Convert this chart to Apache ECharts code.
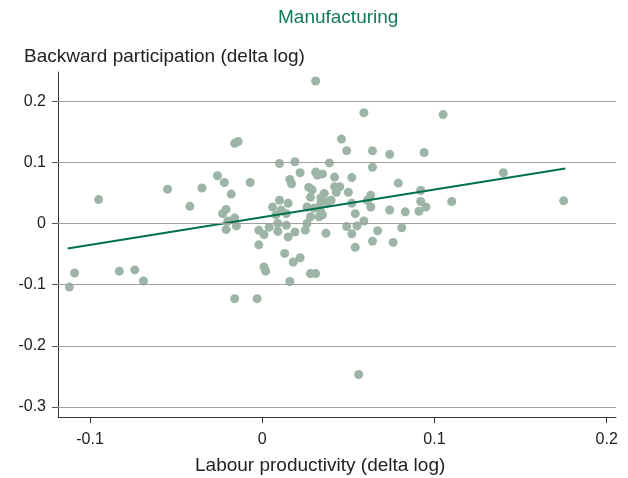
<!DOCTYPE html>
<html>
<head>
<meta charset="utf-8">
<script src="https://cdn.jsdelivr.net/npm/echarts@6/dist/echarts.min.js"></script>
<style>
  html, body { margin: 0; padding: 0; background: #fff; }
  #chart { width: 628px; height: 478px; }
</style>
</head>
<body>
<div id="chart"></div>
<script>
// Labour productivity (x) vs backward participation (y), both in delta log
const productivity = [
  -0.112, -0.109, -0.095, -0.083, -0.074, -0.069, -0.055, -0.042, -0.035, -0.026,
  -0.022, -0.018, -0.023, -0.021, -0.016, -0.014, -0.021, -0.020, -0.016, -0.015,
  -0.016, -0.003, -0.007, -0.002, -0.002, 0.001, 0.001, 0.002, 0.004, 0.009,
  0.009, 0.014, 0.015, 0.019, 0.025, 0.026, 0.013, 0.018, 0.022, 0.028,
  0.031, 0.016, 0.037, 0.049, 0.052, 0.055, 0.059, 0.054, 0.064, 0.067,
  0.076, 0.081, 0.056, 0.031, 0.059, 0.046, 0.049, 0.064, 0.074, 0.010,
  0.019, 0.039, 0.064, 0.022, 0.031, 0.032, 0.035, 0.042, 0.052, 0.016,
  0.017, 0.079, 0.027, 0.029, 0.042, 0.045, 0.043, 0.050, 0.028, 0.034,
  0.036, 0.038, 0.040, 0.034, 0.063, 0.061, 0.063, 0.052, 0.054, 0.034,
  0.035, 0.010, 0.015, 0.006, 0.011, 0.014, 0.008, 0.026, 0.030, 0.028,
  0.033, 0.105, 0.094, 0.140, 0.092, 0.092, 0.095, 0.110, 0.083, 0.091,
  0.175, 0.074
];
const participation = [
  -0.104, -0.081, 0.039, -0.078, -0.076, -0.094, 0.056, 0.028, 0.058, 0.078,
  0.067, 0.048, 0.016, 0.023, 0.131, 0.134, -0.010, 0.004, 0.009, -0.004,
  -0.123, -0.123, 0.067, -0.035, -0.011, -0.018, -0.071, -0.078, -0.006, 0.000,
  -0.013, -0.003, -0.022, -0.014, -0.011, 0.000, -0.049, -0.063, -0.056, -0.082,
  -0.082, -0.095, -0.016, -0.005, -0.017, -0.004, 0.004, -0.039, -0.029, -0.012,
  -0.031, -0.007, -0.247, 0.233, 0.181, 0.138, 0.119, 0.119, 0.113, 0.098,
  0.101, 0.099, 0.092, 0.083, 0.084, 0.079, 0.081, 0.076, 0.075, 0.072,
  0.065, 0.066, 0.059, 0.055, 0.060, 0.060, 0.051, 0.051, 0.043, 0.042,
  0.049, 0.035, 0.038, 0.033, 0.046, 0.038, 0.027, 0.033, 0.016, 0.019,
  0.014, 0.038, 0.033, 0.027, 0.022, 0.016, 0.014, 0.027, 0.025, 0.011,
  0.011, 0.178, 0.116, 0.083, 0.054, 0.036, 0.027, 0.036, 0.019, 0.020,
  0.037, 0.022
];

// Fitted line end points
const fitX = [-0.113, 0.176];
const fitY = [-0.041, 0.090];

// Tick values
const xTicks = [-0.1, 0, 0.1, 0.2];
const yTicks = [-0.3, -0.2, -0.1, 0, 0.1, 0.2];

const titleText = 'Manufacturing';
const yName = 'Backward participation (delta log)';
const xName = 'Labour productivity (delta log)';

const points = productivity.map((x, i) => [x, participation[i]]);
const fitLine = fitX.map((x, i) => [x, fitY[i]]);

const FONT = 'Liberation Sans, Arial, Helvetica, sans-serif';
const chart = echarts.init(document.getElementById('chart'), null, { renderer: 'canvas' });

chart.setOption({
  animation: false,
  backgroundColor: '#ffffff',
  textStyle: { fontFamily: FONT },
  title: [
    { text: titleText, left: 278, top: 8, padding: 0,
      textStyle: { color: '#127a5b', fontSize: 19, fontWeight: 'normal', fontFamily: FONT } },
    { text: yName, left: 24, top: 47, padding: 0,
      textStyle: { color: '#222', fontSize: 19, fontWeight: 'normal', fontFamily: FONT } },
    { text: xName, left: 195, top: 456, padding: 0,
      textStyle: { color: '#222', fontSize: 19, fontWeight: 'normal', fontFamily: FONT } }
  ],
  grid: { left: 58, right: 12, top: 72, bottom: 61, containLabel: false },
  xAxis: {
    type: 'value',
    min: -0.1186,
    max: 0.2054,
    axisLine: { show: true, onZero: false, lineStyle: { color: '#333', width: 1 } },
    axisTick: { show: true, customValues: xTicks, length: 6, lineStyle: { color: '#333' } },
    axisLabel: { customValues: xTicks, margin: 15, color: '#222', fontSize: 16, fontFamily: FONT },
    splitLine: { show: false }
  },
  yAxis: {
    type: 'value',
    min: -0.3165,
    max: 0.2477,
    axisLine: { show: true, onZero: false, lineStyle: { color: '#333', width: 1 } },
    axisTick: { show: true, customValues: yTicks, length: 6, lineStyle: { color: '#555' } },
    axisLabel: { customValues: yTicks, margin: 12, color: '#222', fontSize: 16, fontFamily: FONT },
    splitLine: { show: false }
  },
  series: [
    {
      // horizontal reference lines at each y tick
      type: 'line',
      data: [],
      z: 1,
      silent: true,
      markLine: {
        silent: true,
        symbol: ['none', 'none'],
        label: { show: false },
        lineStyle: { color: '#a0a0a0', width: 1, type: 'solid' },
        data: yTicks.map(v => ({ yAxis: v }))
      }
    },
    {
      type: 'scatter',
      data: points,
      symbol: 'circle',
      symbolSize: 9,
      z: 3,
      itemStyle: { color: '#9cb5a7', opacity: 1 }
    },
    {
      type: 'line',
      data: fitLine,
      z: 4,
      symbol: 'none',
      lineStyle: { color: '#00704f', width: 2 }
    }
  ]
});
</script>
</body>
</html>
